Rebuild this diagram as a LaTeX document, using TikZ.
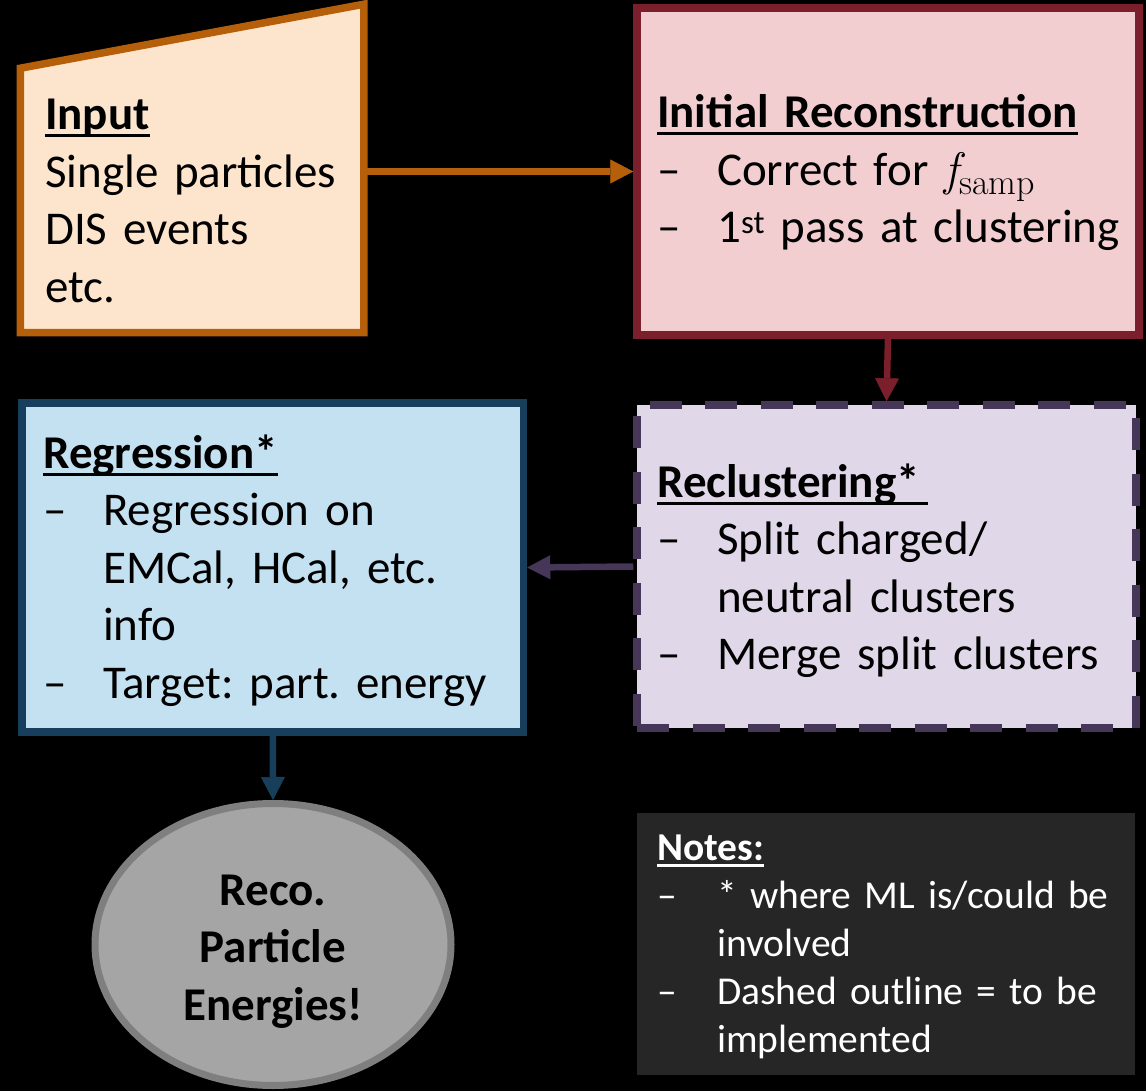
\documentclass[tikz,border=0pt]{standalone}
\usepackage{fontspec}
\setmainfont{Carlito}
\newfontfamily\lmr{Latin Modern Roman}
\usetikzlibrary{arrows.meta,shapes.geometric}
\definecolor{inpfill}{HTML}{FDE5CD}
\definecolor{inpline}{HTML}{B65F0B}
\definecolor{recofill}{HTML}{F2CED1}
\definecolor{recoline}{HTML}{7B1F2C}
\definecolor{reclfill}{HTML}{E0D7E8}
\definecolor{reclline}{HTML}{463658}
\definecolor{regfill}{HTML}{C4E1F2}
\definecolor{regline}{HTML}{173F5C}
\definecolor{ellfill}{HTML}{A5A5A5}
\definecolor{ellline}{HTML}{7F7F7F}
\definecolor{notesfill}{HTML}{262626}
\newcommand\ulin[2][-7.5pt]{\setbox0\hbox{#2}\rlap{\rule[#1]{\wd0}{3pt}}\box0}
\newcommand\dashitem{\makebox[60pt][l]{–}}
\newcommand\contitem{\hspace*{60pt}}
\newcommand\fsamp{{\lmr\itshape f}\kern1pt\raisebox{-9pt}{\fontsize{36}{36}\selectfont\lmr samp}}
\protected\def\tightlines{\lineskiplimit=-100pt\relax\frenchspacing}
\tikzset{
  boxnode/.style={rectangle, line width=7.5pt, inner sep=0pt},
  txt/.style={anchor=base west, inner sep=0pt, text width=480pt, align=left,
    font=\fontsize{47}{57.5}\selectfont\tightlines},
  notetxt/.style={anchor=base west, inner sep=0pt, text width=480pt, align=left, text=white,
    font=\fontsize{39.5}{48}\selectfont\tightlines},
  arr/.style={line width=6.5pt, -{Triangle[length=23pt,width=24pt,line width=0.5pt]}}
}
\begin{document}
\begin{tikzpicture}[x=1pt,y=-1pt]
\useasboundingbox (0,0) rectangle (1146,1091);
\fill[black] (0,0) rectangle (1146,1091);

% Input (manual trapezoid shape around an invisible named node)
\node[boxnode, minimum width=336pt, minimum height=321pt] (input) at (192,168.5) {};
\filldraw[inpline, fill=inpfill, line width=7.5pt]
  (input.south west) -- ([yshift=-64pt]input.north west) -- (input.north east)
  -- (input.south east) -- cycle;
\node[txt] (inputtxt) at (45,130) {{\bfseries\ulin{Input}}\\Single particles\\DIS events\\etc.};

% Initial reconstruction
\node[boxnode, draw=recoline, fill=recofill, minimum width=502pt, minimum height=327pt] (reco) at (888,171.5) {};
\node[txt] (recotxt) at (657,128) {{\bfseries\ulin{Initial Reconstruction}}\\
  \dashitem Correct for \fsamp\\
  \dashitem 1\textsuperscript{st} pass at clustering};

% Reclustering
\node[boxnode, draw=reclline, fill=reclfill, dash pattern=on 32pt off 23.5pt, minimum width=499pt, minimum height=323pt] (recl) at (886.5,566.5) {};
\node[txt] (recltxt) at (657,497) {{\bfseries\ulin{Reclustering*\,}}\\
  \dashitem Split charged/\\
  \contitem neutral clusters\\
  \dashitem Merge split clusters};

% Regression
\node[boxnode, draw=regline, fill=regfill, minimum width=501.5pt, minimum height=329pt] (reg) at (272.75,567.5) {};
\node[txt] (regtxt) at (43,468) {{\bfseries\ulin{Regression*}}\\
  \dashitem Regression on\\
  \contitem EMCal, HCal, etc.\\
  \contitem info\\
  \dashitem Target: part. energy};

% Result ellipse
\node[ellipse, draw=ellline, fill=ellfill, line width=7pt, minimum width=356pt, minimum height=282pt, inner sep=0pt] (ell) at (273,944.5) {};
\node[anchor=base, inner sep=0pt, text width=340pt, align=center,
  font=\fontsize{47}{57.5}\selectfont\bfseries\tightlines] (elltxt) at (273,905)
  {Reco.\\Particle\\Energies!};

% Notes
\node[rectangle, fill=notesfill, minimum width=498pt, minimum height=262pt, inner sep=0pt] (notes) at (886,944) {};
\node[notetxt] (notestxt) at (657,860) {{\bfseries\ulin[-6.5pt]{Notes:}}\\
  \dashitem * where ML is/could be\\
  \contitem involved\\
  \dashitem Dashed outline = to be\\
  \contitem implemented};

% Connectors
\draw[arr, inpline] (input.east |- reco.west) -- (reco.west);
\draw[arr, recoline] (reco.south) -- (recl.north);
\draw[arr, reclline] (recl.west) -- (reg.east);
\draw[arr, regline] (reg.south) -- (ell.north);
\end{tikzpicture}
\end{document}
